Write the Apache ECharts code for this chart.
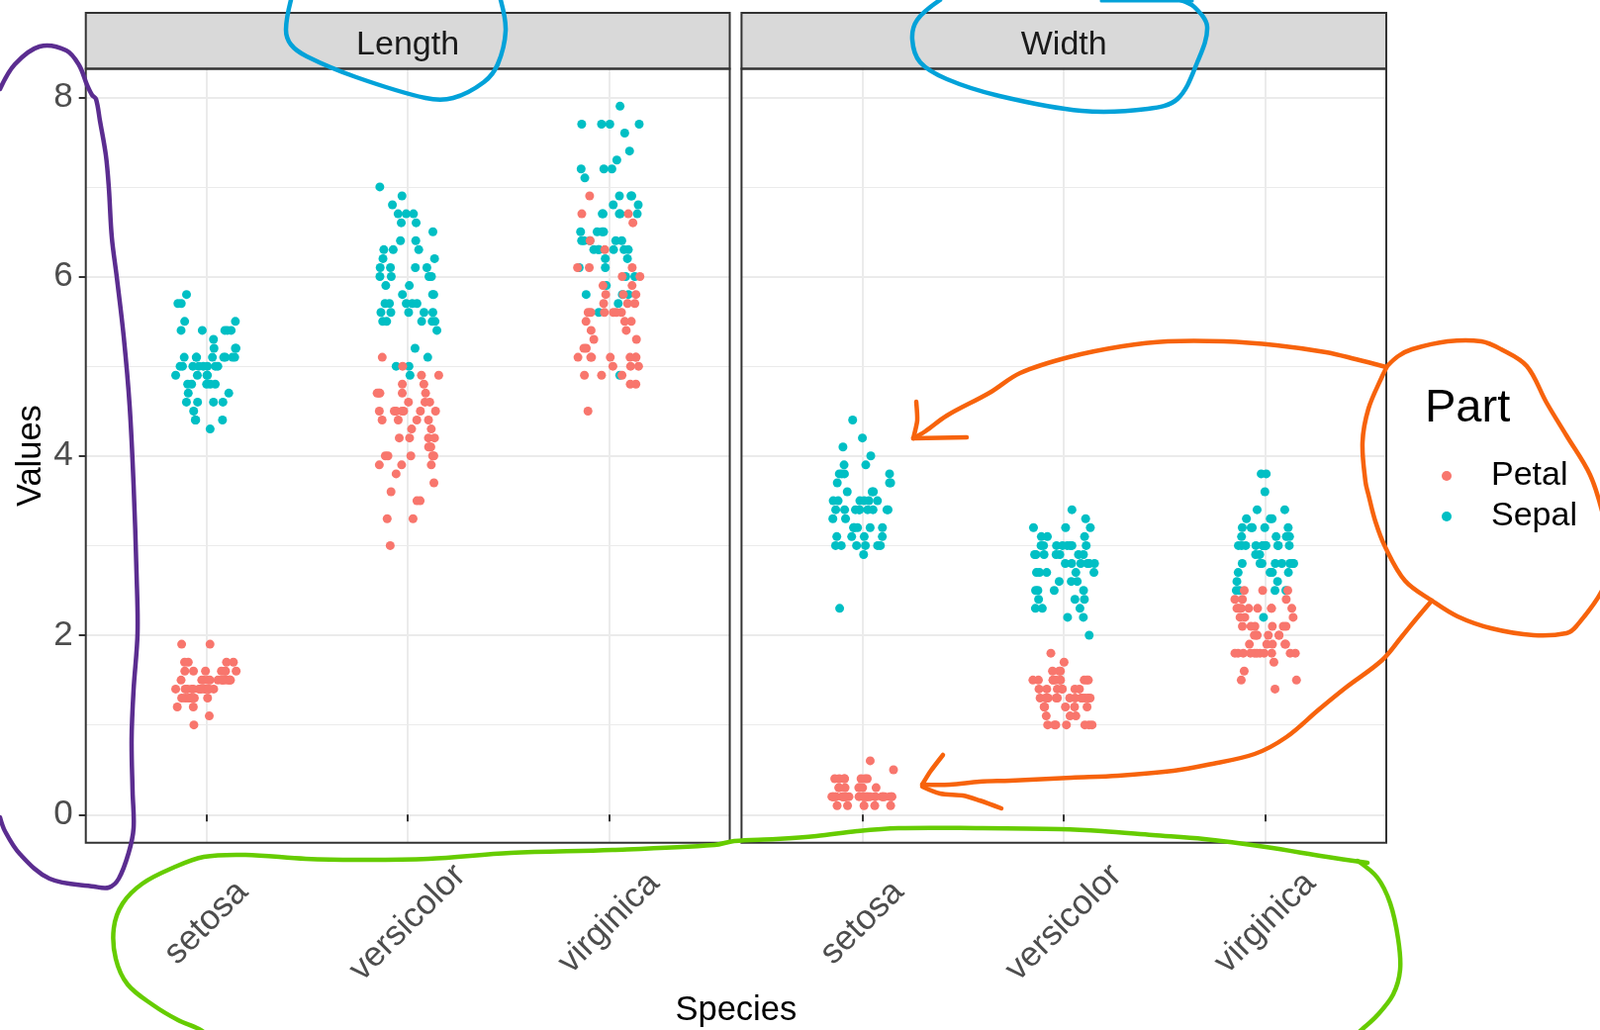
<!DOCTYPE html>
<html><head><meta charset="utf-8">
<script src="https://cdn.jsdelivr.net/npm/echarts@6/dist/echarts.min.js"></script>
<style>html,body{margin:0;padding:0;background:#fff}#c{width:1617px;height:1041px}</style>
</head><body><div id="c"></div><script>
// ---------- data ----------
const species = ['setosa', 'versicolor', 'virginica'];
const facets = ['Length', 'Width'];
const parts = ['Petal', 'Sepal'];
const yTicks = [0, 2, 4, 6, 8];

const setosaSepalLength = [5.1,4.9,4.7,4.6,5.0,5.4,4.6,5.0,4.4,4.9,5.4,4.8,4.8,4.3,5.8,5.7,5.4,5.1,5.7,5.1,5.4,5.1,4.6,5.1,4.8,5.0,5.0,5.2,5.2,4.7,4.8,5.4,5.2,5.5,4.9,5.0,5.5,4.9,4.4,5.1,5.0,4.5,4.4,5.0,5.1,4.8,5.1,4.6,5.3,5.0];
const setosaSepalWidth = [3.5,3.0,3.2,3.1,3.6,3.9,3.4,3.4,2.9,3.1,3.7,3.4,3.0,3.0,4.0,4.4,3.9,3.5,3.8,3.8,3.4,3.7,3.6,3.3,3.4,3.0,3.4,3.5,3.4,3.2,3.1,3.4,4.1,4.2,3.1,3.2,3.5,3.6,3.0,3.4,3.5,2.3,3.2,3.5,3.8,3.0,3.8,3.2,3.7,3.3];
const setosaPetalLength = [1.4,1.4,1.3,1.5,1.4,1.7,1.4,1.5,1.4,1.5,1.5,1.6,1.4,1.1,1.2,1.5,1.3,1.4,1.7,1.5,1.7,1.5,1.0,1.7,1.9,1.6,1.6,1.5,1.4,1.6,1.6,1.5,1.5,1.4,1.5,1.2,1.3,1.4,1.3,1.5,1.3,1.3,1.3,1.6,1.9,1.4,1.6,1.4,1.5,1.4];
const setosaPetalWidth = [0.2,0.2,0.2,0.2,0.2,0.4,0.3,0.2,0.2,0.1,0.2,0.2,0.1,0.1,0.2,0.4,0.4,0.3,0.3,0.3,0.2,0.4,0.2,0.5,0.2,0.2,0.4,0.2,0.2,0.2,0.2,0.4,0.1,0.2,0.2,0.2,0.2,0.1,0.2,0.2,0.3,0.3,0.2,0.6,0.4,0.3,0.2,0.2,0.2,0.2];

const versicolorSepalLength = [7.0,6.4,6.9,5.5,6.5,5.7,6.3,4.9,6.6,5.2,5.0,5.9,6.0,6.1,5.6,6.7,5.6,5.8,6.2,5.6,5.9,6.1,6.3,6.1,6.4,6.6,6.8,6.7,6.0,5.7,5.5,5.5,5.8,6.0,5.4,6.0,6.7,6.3,5.6,5.5,5.5,6.1,5.8,5.0,5.6,5.7,5.7,6.2,5.1,5.7];
const versicolorSepalWidth = [3.2,3.2,3.1,2.3,2.8,2.8,3.3,2.4,2.9,2.7,2.0,3.0,2.2,2.9,2.9,3.1,3.0,2.7,2.2,2.5,3.2,2.8,2.5,2.8,2.9,3.0,2.8,3.0,2.9,2.6,2.4,2.4,2.7,2.7,3.0,3.4,3.1,2.3,3.0,2.5,2.6,3.0,2.6,2.3,2.7,3.0,2.9,2.9,2.5,2.8];
const versicolorPetalLength = [4.7,4.5,4.9,4.0,4.6,4.5,4.7,3.3,4.6,3.9,3.5,4.2,4.0,4.7,3.6,4.4,4.5,4.1,4.5,3.9,4.8,4.0,4.9,4.7,4.3,4.4,4.8,5.0,4.5,3.5,3.8,3.7,3.9,5.1,4.5,4.5,4.7,4.4,4.1,4.0,4.4,4.6,4.0,3.3,4.2,4.2,4.2,4.3,3.0,4.1];
const versicolorPetalWidth = [1.4,1.5,1.5,1.3,1.5,1.3,1.6,1.0,1.3,1.4,1.0,1.5,1.0,1.4,1.3,1.4,1.5,1.0,1.5,1.1,1.8,1.3,1.5,1.2,1.3,1.4,1.4,1.7,1.5,1.0,1.1,1.0,1.2,1.6,1.5,1.6,1.5,1.3,1.3,1.3,1.2,1.4,1.2,1.0,1.3,1.2,1.3,1.3,1.1,1.3];

const virginicaSepalLength = [6.3,5.8,7.1,6.3,6.5,7.6,4.9,7.3,6.7,7.2,6.5,6.4,6.8,5.7,5.8,6.4,6.5,7.7,7.7,6.0,6.9,5.6,7.7,6.3,6.7,7.2,6.2,6.1,6.4,7.2,7.4,7.9,6.4,6.3,6.1,7.7,6.3,6.4,6.0,6.9,6.7,6.9,5.8,6.8,6.7,6.7,6.3,6.5,6.2,5.9];
const virginicaSepalWidth = [3.3,2.7,3.0,2.9,3.0,3.0,2.5,2.9,2.5,3.6,3.2,2.7,3.0,2.5,2.8,3.2,3.0,3.8,2.6,2.2,3.2,2.8,2.8,2.7,3.3,3.2,2.8,3.0,2.8,3.0,2.8,3.8,2.8,2.8,2.6,3.0,3.4,3.1,3.0,3.1,3.1,3.1,2.7,3.2,3.3,3.0,2.5,3.0,3.4,3.0];
const virginicaPetalLength = [6.0,5.1,5.9,5.6,5.8,6.6,4.5,6.3,5.8,6.1,5.1,5.3,5.5,5.0,5.1,5.3,5.5,6.7,6.9,5.0,5.7,4.9,6.7,4.9,5.7,6.0,4.8,4.9,5.6,5.8,6.1,6.4,5.6,5.1,5.6,6.1,5.6,5.5,4.8,5.4,5.6,5.1,5.1,5.9,5.7,5.2,5.0,5.2,5.4,5.1];
const virginicaPetalWidth = [2.5,1.9,2.1,1.8,2.2,2.1,1.7,1.8,1.8,2.5,2.0,1.9,2.1,2.0,2.4,2.3,1.8,2.2,2.3,1.5,2.3,2.0,2.0,1.8,2.1,1.8,1.8,1.8,2.1,1.6,1.9,2.0,2.2,1.5,1.4,2.3,2.4,1.8,1.8,2.1,2.4,2.3,1.9,2.3,2.5,2.3,1.9,2.0,2.3,1.8];

// ---------- helpers ----------
function toPoints(arrs) {
  const out = [];
  arrs.forEach((a, i) => a.forEach(v => out.push([species[i], v])));
  return out;
}
const seriesData = {
  Length: {
    Petal: toPoints([setosaPetalLength, versicolorPetalLength, virginicaPetalLength]),
    Sepal: toPoints([setosaSepalLength, versicolorSepalLength, virginicaSepalLength])
  },
  Width: {
    Petal: toPoints([setosaPetalWidth, versicolorPetalWidth, virginicaPetalWidth]),
    Sepal: toPoints([setosaSepalWidth, versicolorSepalWidth, virginicaSepalWidth])
  }
};
const colors = { Petal: '#F8766D', Sepal: '#00BFC4' };
const FONT = '"Liberation Sans", Arial, sans-serif';

// ---------- layout ----------
const panels = [{ x: 86.7, w: 650.8 }, { x: 749.4, w: 651.6 }];
const PTOP = 69.5, PBOT = 851.7;
const Y0 = 823.3, Y8 = 98.3; // pixel rows of y = 0 and y = 8
const unit = (Y0 - Y8) / 8;
const yMin = -(PBOT - Y0) / unit, yMax = 8 + (Y8 - PTOP) / unit;
const STRIP_TOP = 13;

const grid = [], xAxis = [], yAxis = [], series = [];
panels.forEach((p, i) => {
  const inset = p.w * 0.1 / 3.2;
  grid.push({ left: p.x + inset, width: p.w - 2 * inset, top: PTOP, height: PBOT - PTOP, containLabel: false });
  grid.push({ left: p.x, width: p.w, top: Y8, height: Y0 - Y8, containLabel: false });
});
panels.forEach((p, i) => {
  xAxis.push({
    gridIndex: 2 * i, type: 'category', data: species, boundaryGap: true,
    jitter: 64, jitterOverlap: true,
    axisLine: { show: false },
    axisTick: { show: true, alignWithLabel: true, length: 7, lineStyle: { color: '#333333', width: 2 } },
    axisLabel: { show: true, interval: 0, rotate: 45, align: 'center', verticalAlign: 'middle', margin: 81,
      fontSize: 35, color: '#4D4D4D', fontFamily: FONT },
    splitLine: { show: true, alignWithLabel: true, lineStyle: { color: '#EBEBEB', width: 2 } }
  });
  yAxis.push({ gridIndex: 2 * i, type: 'value', min: yMin, max: yMax, show: false });
  xAxis.push({ gridIndex: 2 * i + 1, type: 'value', min: 0, max: 1, show: false });
  yAxis.push({
    gridIndex: 2 * i + 1, type: 'value', min: yTicks[0], max: yTicks[yTicks.length - 1], interval: 2,
    axisLine: { show: false },
    axisTick: { show: i === 0, length: 7, lineStyle: { color: '#333333', width: 2 } },
    axisLabel: { show: i === 0, margin: 13, fontSize: 35, color: '#4D4D4D', fontFamily: FONT },
    splitLine: { show: true, lineStyle: { color: '#EBEBEB', width: 2 } },
    minorTick: { show: false, splitNumber: 2 },
    minorSplitLine: { show: true, lineStyle: { color: '#EBEBEB', width: 1 } }
  });
});
facets.forEach((f, i) => {
  ['Sepal', 'Petal'].forEach(part => {
    series.push({
      type: 'scatter', name: part, xAxisIndex: 2 * i, yAxisIndex: 2 * i,
      data: seriesData[f][part], symbol: 'circle', symbolSize: 9,
      itemStyle: { color: colors[part], opacity: 1 }, silent: true
    });
  });
});

// ---------- decorations ----------
const graphic = [];
panels.forEach((p, i) => {
  graphic.push({ type: 'rect', z: 50, shape: { x: p.x, y: STRIP_TOP, width: p.w, height: PTOP - STRIP_TOP },
    style: { fill: '#D9D9D9', stroke: '#333333', lineWidth: 2 } });
  graphic.push({ type: 'rect', z: 50, shape: { x: p.x, y: PTOP, width: p.w, height: PBOT - PTOP },
    style: { fill: null, stroke: '#333333', lineWidth: 2 } });
  graphic.push({ type: 'text', z: 51, x: p.x + p.w / 2, y: (STRIP_TOP + PTOP) / 2 + 4,
    style: { text: facets[i], fontSize: 34, fontFamily: FONT, fill: '#1A1A1A', align: 'center', verticalAlign: 'middle', textAlign: 'center', textVerticalAlign: 'middle' } });
});
graphic.push({ type: 'text', z: 51, x: 31, y: (PTOP + PBOT) / 2, rotation: Math.PI / 2,
  style: { text: 'Values', fontSize: 34.5, fontFamily: FONT, fill: '#000', align: 'center', verticalAlign: 'middle', textAlign: 'center', textVerticalAlign: 'middle' } });
graphic.push({ type: 'text', z: 51, x: (panels[0].x + panels[1].x + panels[1].w) / 2, y: 1021,
  style: { text: 'Species', fontSize: 34.5, fontFamily: FONT, fill: '#000', align: 'center', verticalAlign: 'middle', textAlign: 'center', textVerticalAlign: 'middle' } });
graphic.push({ type: 'text', z: 51, x: 1440, y: 413,
  style: { text: 'Part', fontSize: 47, fontFamily: FONT, fill: '#000', align: 'left', verticalAlign: 'middle', textAlign: 'left', textVerticalAlign: 'middle' } });

// hand-drawn annotation strokes
function ink(points, color, smooth, width) {
  graphic.push({ type: 'polyline', z: 100, silent: true,
    shape: { points: points, smooth: smooth === undefined ? 0.35 : smooth },
    style: { stroke: color, lineWidth: width || 4.5, fill: null, lineCap: 'round', lineJoin: 'round' } });
}
const PURPLE = '#5B2D90', BLUE = '#03A2D9', ORANGE = '#F7630C', GREEN = '#66CC00';
ink([[0,90],[15,65],[40,47],[67,51],[80,66],[88,86],[93,96],[97,100],[101,122],[107,157],[110,190],[113,240],[118,280],[125,340],[131,410],[135,490],[138,580],[139,640],[135,697],[133,747],[134,800],[135,837],[130,862],[120,888],[110,897],[95,896],[50,888],[20,863],[5,840],[0,826]], PURPLE);
ink([[294,0],[289,30],[294,45],[310,57],[360,78],[430,99],[458,99],[489,83],[503,65],[511,31],[506,0]], BLUE);
ink([[950,0],[927,20],[922,40],[930,63],[957,80],[1010,97],[1093,112],[1160,110],[1190,100],[1210,63],[1220,27],[1207,7],[1193,0]], BLUE);
ink([[1113,1],[1205,1]], BLUE, 0, 3);
ink([[1402,370],[1413,360],[1427,353],[1463,345],[1497,345],[1517,353],[1543,370],[1563,407],[1583,440],[1607,480],[1620,520],[1628,560],[1620,595],[1593,633],[1583,640],[1550,642],[1507,635],[1473,623],[1447,607],[1420,587],[1400,553],[1390,527],[1383,500],[1380,487],[1377,447],[1383,413],[1397,380],[1402,370]], ORANGE);
ink([[1401,371],[1370,363],[1340,356],[1290,349],[1237,345],[1180,345],[1134,350],[1080,361],[1031,377],[1000,397],[957,420],[935,436],[923,443]], ORANGE);
ink([[926,406],[927,425],[923,443]], ORANGE, 0.2);
ink([[923,443],[977,442]], ORANGE, 0);
ink([[1447,607],[1430,627],[1417,643],[1397,667],[1360,695],[1333,717],[1300,745],[1268,762],[1220,773],[1186,779],[1130,784],[1083,786],[1021,789],[990,790],[960,793],[932,793]], ORANGE);
ink([[953,763],[940,780],[932,793]], ORANGE, 0.2);
ink([[932,795],[950,802],[973,804],[990,809],[1012,817]], ORANGE, 0.3);
ink([[1382,872],[1341,866],[1279,856],[1217,848],[1165,844],[1114,840],[1072,838],[990,837],[908,837],[866,840],[825,845],[784,848],[742,850],[722,854],[619,859],[516,862],[433,868],[361,869],[309,868],[248,864],[206,866],[175,877],[144,893],[124,913],[115,938],[117,969],[129,995],[155,1016],[180,1031],[201,1040],[215,1050]], GREEN);
ink([[1372,870],[1392,887],[1405,913],[1413,949],[1415,980],[1408,1005],[1392,1026],[1377,1040],[1365,1050]], GREEN);

const chart = echarts.init(document.getElementById('c'));
chart.setOption({
  animation: false,
  backgroundColor: '#ffffff',
  textStyle: { fontFamily: FONT },
  grid: grid, xAxis: xAxis, yAxis: yAxis, series: series,
  legend: {
    data: parts, orient: 'vertical', left: 1452, top: 459,
    icon: 'circle', itemWidth: 80, itemHeight: 10, itemGap: 7,
    textStyle: { fontSize: 34, color: '#000', fontFamily: FONT },
    selectedMode: false
  },
  graphic: graphic
});
</script></body></html>
